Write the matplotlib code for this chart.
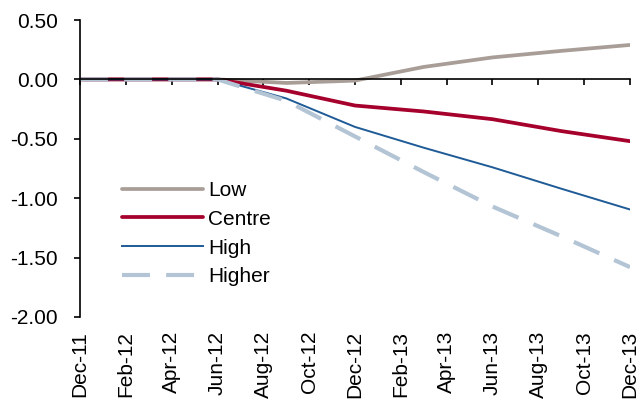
import matplotlib
matplotlib.use("Agg")
import matplotlib.pyplot as plt
from matplotlib.ticker import FuncFormatter

plt.rcParams['font.family'] = ['Liberation Sans', 'DejaVu Sans']

# month index from Dec-11 (0) to Dec-13 (24); quarterly data points
months = [0, 3, 6, 9, 12, 15, 18, 21, 24]
low    = [0.00, 0.00, 0.00, -0.03, -0.01, 0.105, 0.185, 0.24, 0.29]
centre = [0.00, 0.00, 0.00, -0.095, -0.22, -0.27, -0.335, -0.435, -0.52]
high   = [0.00, 0.00, 0.00, -0.16, -0.40, -0.575, -0.74, -0.92, -1.095]
higher = [0.00, 0.00, 0.00, -0.18, -0.48, -0.78, -1.07, -1.32, -1.58]

tick_pos = list(range(0, 25, 2))
tick_labels = ["Dec-11", "Feb-12", "Apr-12", "Jun-12", "Aug-12", "Oct-12", "Dec-12",
               "Feb-13", "Apr-13", "Jun-13", "Aug-13", "Oct-13", "Dec-13"]
y_ticks = [0.5, 0.0, -0.5, -1.0, -1.5, -2.0]

fig = plt.figure(figsize=(6.37, 4.04), dpi=100)
ax = fig.add_axes([80/637, 1-317/404, 550/637, 297/404])

ax.plot(months, low, color='#A89E97', lw=2.7, label='Low', solid_capstyle='round')
ax.plot(months, centre, color='#A6002C', lw=2.7, label='Centre', solid_capstyle='round')
ax.plot(months, high, color='#1F5B96', lw=1.4, label='High')
ax.plot(months, higher, color='#B3C4D5', lw=3.0, label='Higher', dashes=(6.7, 3.9))

ax.set_xlim(0, 24)
ax.set_ylim(-2.0, 0.5)
ax.set_yticks(y_ticks)
ax.yaxis.set_major_formatter(FuncFormatter(lambda v, p: f"{v:.2f}".replace('\u2212', '-')))
ax.tick_params(axis='y', direction='out', length=4.3, width=1.2, labelsize=15, pad=11.5)

for s in ['top', 'right']:
    ax.spines[s].set_visible(False)
ax.spines['left'].set_linewidth(1.2)
ax.spines['bottom'].set_position(('data', 0))
ax.spines['bottom'].set_linewidth(1.2)
ax.set_xticks(tick_pos)
ax.tick_params(axis='x', direction='out', length=4.3, width=1.2, labelbottom=False)

sec = ax.secondary_xaxis('bottom')
sec.set_xticks(tick_pos)
sec.set_xticklabels(tick_labels, rotation=90)
sec.tick_params(axis='x', length=0, labelsize=15, pad=10)
sec.spines['bottom'].set_visible(False)

ax.legend(loc='upper left', bbox_to_anchor=(0.0764, 0.458), frameon=False, fontsize=15,
          handlelength=3.9, handletextpad=0.24, labelspacing=0.47, borderpad=0, borderaxespad=0)

fig.savefig('out.png', dpi=100)
